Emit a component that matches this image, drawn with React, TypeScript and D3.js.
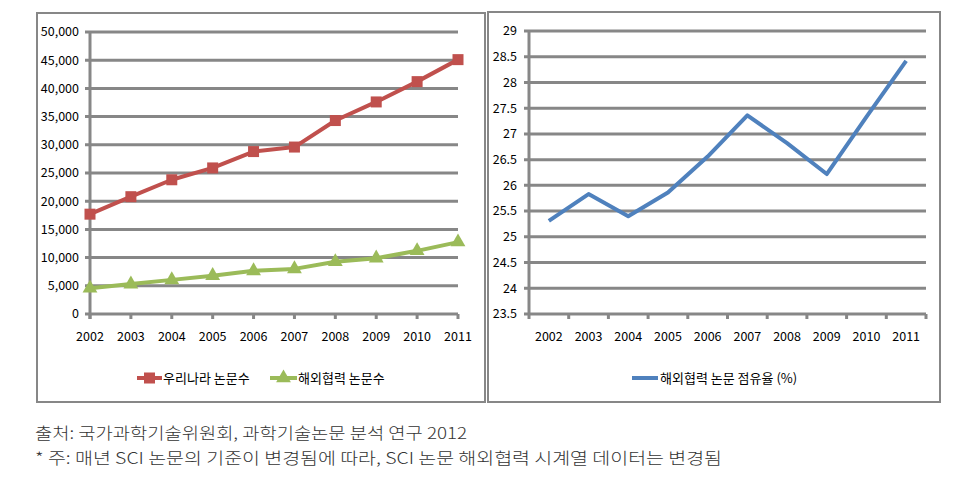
import React from "react";
import * as d3 from "d3";

const years = ["2002","2003","2004","2005","2006","2007","2008","2009","2010","2011"];
const domesticPapers = [17700, 20800, 23800, 25900, 28800, 29600, 34300, 37600, 41200, 45100];
const intlPapers = [4550, 5300, 6050, 6800, 7650, 8000, 9250, 9900, 11200, 12750];
const intlShare = [25.31, 25.83, 25.4, 25.86, 26.56, 27.36, 26.82, 26.22, 27.33, 28.42];
const leftTicks = [0, 5000, 10000, 15000, 20000, 25000, 30000, 35000, 40000, 45000, 50000];
const rightTicks = [23.5, 24, 24.5, 25, 25.5, 26, 26.5, 27, 27.5, 28, 28.5, 29];
const legendLeft = ["우리나라 논문수", "해외협력 논문수"];
const legendRight = ["해외협력 논문 점유율 (%)"];
const footer1 = "출처: 국가과학기술위원회, 과학기술논문 분석 연구 2012";
const footer2 = "* 주: 매년 SCI 논문의 기준이 변경됨에 따라, SCI 논문 해외협력 시계열 데이터는 변경됨";

const RED = "#C0504D";
const GREEN = "#9BBB59";
const BLUE = "#4F81BD";
const GRID = "#878787";
const FONT = "'Noto Sans CJK KR', 'Noto Sans', sans-serif";

export default function App() {
  // left panel scales
  const xL = d3.scalePoint<string>().domain(years).range([90, 458]);
  const yL = d3.scaleLinear().domain([0, 50000]).range([314, 32]);
  // right panel scales
  const xR = d3.scaleBand<string>().domain(years).range([529, 926]);
  const yR = d3.scaleLinear().domain([23.5, 29]).range([314, 31]);

  const lineL = d3.line<number>().x((_, i) => xL(years[i]) as number).y((d) => yL(d));
  const lineR = d3.line<number>().x((_, i) => (xR(years[i]) as number) + xR.bandwidth() / 2).y((d) => yR(d));
  const fmt = d3.format(",");
  const tri = d3.symbol().type(d3.symbolTriangle).size(95)();
  const SQ = 11;

  return (
    <svg width={955} height={484} style={{ position: "absolute", left: 0, top: 0, background: "#fff" }} fontFamily={FONT}>
      <rect x={0} y={0} width={955} height={484} fill="#fff" />
      {/* panel frames */}
      <rect x={37} y={13} width={448} height={389} fill="#fff" stroke={GRID} strokeWidth={2} />
      <rect x={488} y={12} width={452} height={390} fill="#fff" stroke={GRID} strokeWidth={2} />

      {/* LEFT PANEL */}
      {leftTicks.map((t) => (
        <g key={"lg" + t}>
          <line x1={85} x2={458} y1={yL(t)} y2={yL(t)} stroke={GRID} strokeWidth={3} />
          <text x={79} y={yL(t)} dy="0.35em" textAnchor="end" fontSize={12.5} fill="#000">{fmt(t)}</text>
        </g>
      ))}
      <line x1={90} x2={90} y1={yL(50000)} y2={yL(0) + 5} stroke={GRID} strokeWidth={3} />
      {years.map((y) => (
        <g key={"lx" + y}>
          <line x1={xL(y)} x2={xL(y)} y1={yL(0)} y2={yL(0) + 5} stroke={GRID} strokeWidth={3} />
          <text x={xL(y)} y={337} dy="0.35em" textAnchor="middle" fontSize={12.5} fill="#000">{y}</text>
        </g>
      ))}
      <path d={lineL(intlPapers) || ""} fill="none" stroke={GREEN} strokeWidth={4} strokeLinejoin="round" />
      {intlPapers.map((v, i) => (
        <path key={"gt" + i} d={tri || ""} transform={`translate(${xL(years[i])},${yL(v)})`} fill={GREEN} />
      ))}
      <path d={lineL(domesticPapers) || ""} fill="none" stroke={RED} strokeWidth={4} strokeLinejoin="round" />
      {domesticPapers.map((v, i) => (
        <rect key={"rs" + i} x={(xL(years[i]) as number) - SQ / 2} y={yL(v) - SQ / 2} width={SQ} height={SQ} fill={RED} />
      ))}
      {/* left legend */}
      <line x1={137} x2={162} y1={378} y2={378} stroke={RED} strokeWidth={4} />
      <rect x={149.5 - SQ / 2} y={378 - SQ / 2} width={SQ} height={SQ} fill={RED} />
      <text x={163} y={378} dy="0.35em" fontSize={13} fill="#000">{legendLeft[0]}</text>
      <line x1={270} x2={297} y1={378} y2={378} stroke={GREEN} strokeWidth={4} />
      <path d={tri || ""} transform="translate(283.5,378)" fill={GREEN} />
      <text x={298} y={378} dy="0.35em" fontSize={13} fill="#000">{legendLeft[1]}</text>

      {/* RIGHT PANEL */}
      {rightTicks.map((t) => (
        <g key={"rg" + t}>
          <line x1={524} x2={926} y1={yR(t)} y2={yR(t)} stroke={GRID} strokeWidth={3} />
          <text x={517} y={yR(t)} dy="0.35em" textAnchor="end" fontSize={12.5} fill="#000">{String(t)}</text>
        </g>
      ))}
      <line x1={529} x2={529} y1={yR(29)} y2={yR(23.5) + 5} stroke={GRID} strokeWidth={3} />
      {years.map((y) => (
        <g key={"rx" + y}>
          <line x1={(xR(y) as number) + xR.bandwidth()} x2={(xR(y) as number) + xR.bandwidth()} y1={yR(23.5)} y2={yR(23.5) + 5} stroke={GRID} strokeWidth={3} />
          <text x={(xR(y) as number) + xR.bandwidth() / 2} y={337} dy="0.35em" textAnchor="middle" fontSize={12.5} fill="#000">{y}</text>
        </g>
      ))}
      <path d={lineR(intlShare) || ""} fill="none" stroke={BLUE} strokeWidth={4} strokeLinejoin="round" />
      {/* right legend */}
      <line x1={632} x2={658} y1={378} y2={378} stroke={BLUE} strokeWidth={4} />
      <text x={660} y={378} dy="0.35em" fontSize={13} fill="#000">{legendRight[0]}</text>

      {/* footer */}
      <text x={35} y={439} fontSize={16} fontWeight={300} fill="#333" textLength={432} lengthAdjust="spacingAndGlyphs">{footer1}</text>
      <text x={35} y={464} fontSize={16} fontWeight={300} fill="#333" textLength={687} lengthAdjust="spacingAndGlyphs">{footer2}</text>
    </svg>
  );
}
